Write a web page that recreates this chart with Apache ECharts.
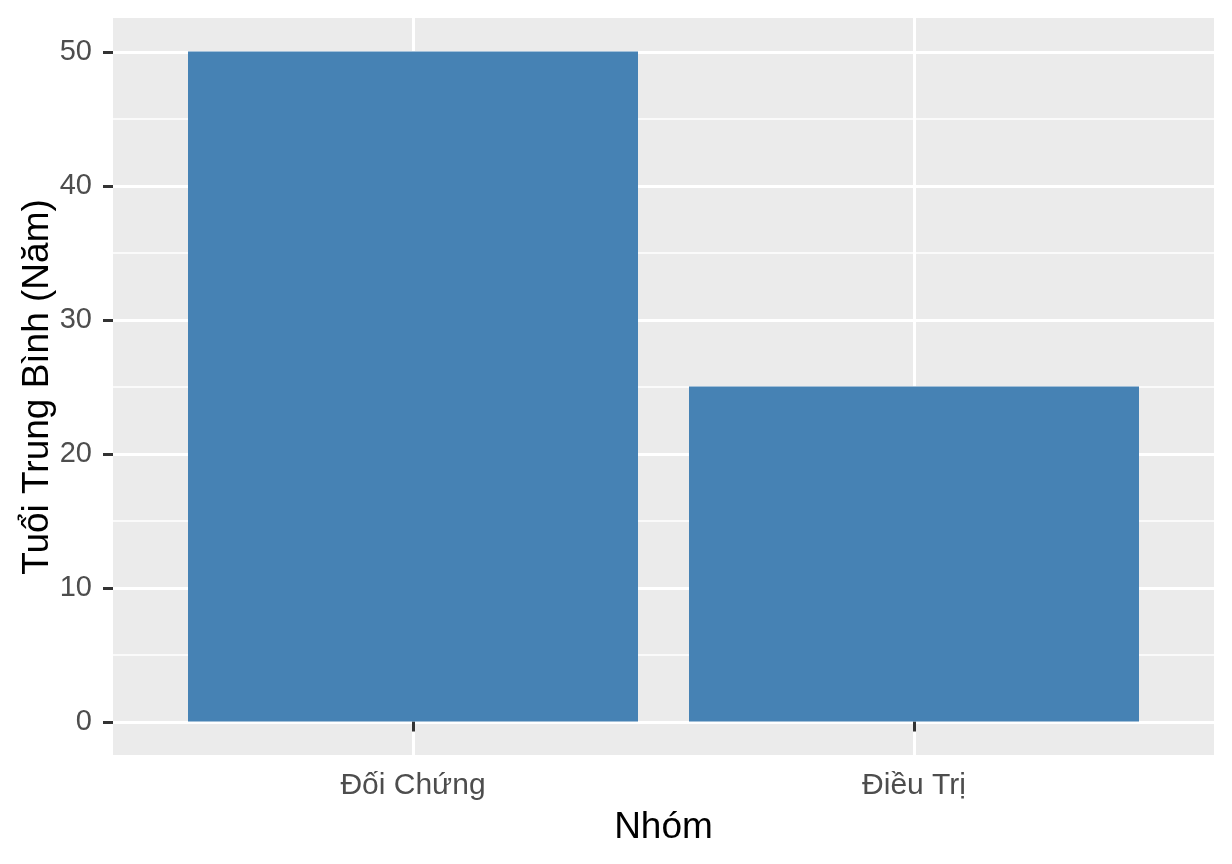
<!DOCTYPE html>
<html>
<head>
<meta charset="utf-8">
<script src="https://cdn.jsdelivr.net/npm/echarts@6/dist/echarts.min.js"></script>
<style>
html,body{margin:0;padding:0;background:#ffffff;}
#chart{width:1232px;height:864px;}
</style>
</head>
<body>
<div id="chart"></div>
<script>
const categories = ["Đối Chứng", "Điều Trị"];
const meanAge = [50, 25];
const yTicks = [0, 10, 20, 30, 40, 50];

const FONT = "Liberation Sans, Arial, sans-serif";
const chart = echarts.init(document.getElementById('chart'), null, {renderer: 'canvas'});

const option = {
  backgroundColor: '#ffffff',
  animation: false,
  textStyle: {fontFamily: FONT},
  graphic: [{
    type: 'rect',
    z: -10,
    shape: {x: 113, y: 18, width: 1101, height: 737},
    style: {fill: '#EBEBEB'}
  }],
  grid: [
    {left: 113, right: 18, top: 52, bottom: 142, containLabel: false},
    {left: 413, width: 501, top: 18, height: 737, containLabel: false}
  ],
  xAxis: [
    {type: 'value', gridIndex: 0, min: 0, max: 1, show: false},
    {
      type: 'category', gridIndex: 1, data: categories, boundaryGap: false,
      axisLine: {show: false},
      axisTick: {show: true, length: 10, interval: 0, lineStyle: {color: '#333333', width: 3}},
      axisLabel: {interval: 0, fontSize: 30, color: '#4D4D4D', margin: 16, fontFamily: FONT},
      splitLine: {show: true, interval: 0, lineStyle: {color: '#ffffff', width: 3}},
      name: 'Nhóm', nameLocation: 'middle', nameGap: 54, nameMoveOverlap: false,
      nameTextStyle: {fontSize: 37, color: '#000000', fontFamily: FONT}
    }
  ],
  yAxis: [
    {
      type: 'value', gridIndex: 0, min: yTicks[0], max: yTicks[yTicks.length - 1], interval: 10,
      axisLine: {show: false},
      axisTick: {show: true, length: 10, lineStyle: {color: '#333333', width: 3}},
      axisLabel: {fontSize: 29, color: '#4D4D4D', margin: 21, fontFamily: FONT},
      splitLine: {show: true, lineStyle: {color: '#ffffff', width: 3}},
      minorTick: {show: false, splitNumber: 2},
      minorSplitLine: {show: true, lineStyle: {color: '#ffffff', width: 1.5}},
      name: 'Tuổi Trung Bình (Năm)', nameLocation: 'middle', nameGap: 57, nameMoveOverlap: false,
      nameTextStyle: {fontSize: 37, color: '#000000', fontFamily: FONT}
    },
    {type: 'value', gridIndex: 1, min: -2.5, max: 52.5, show: false}
  ],
  series: [{
    type: 'bar',
    xAxisIndex: 1, yAxisIndex: 1,
    data: meanAge,
    barWidth: 450,
    itemStyle: {color: '#4682B4'},
    z: 5
  }]
};
chart.setOption(option);
</script>
</body>
</html>
